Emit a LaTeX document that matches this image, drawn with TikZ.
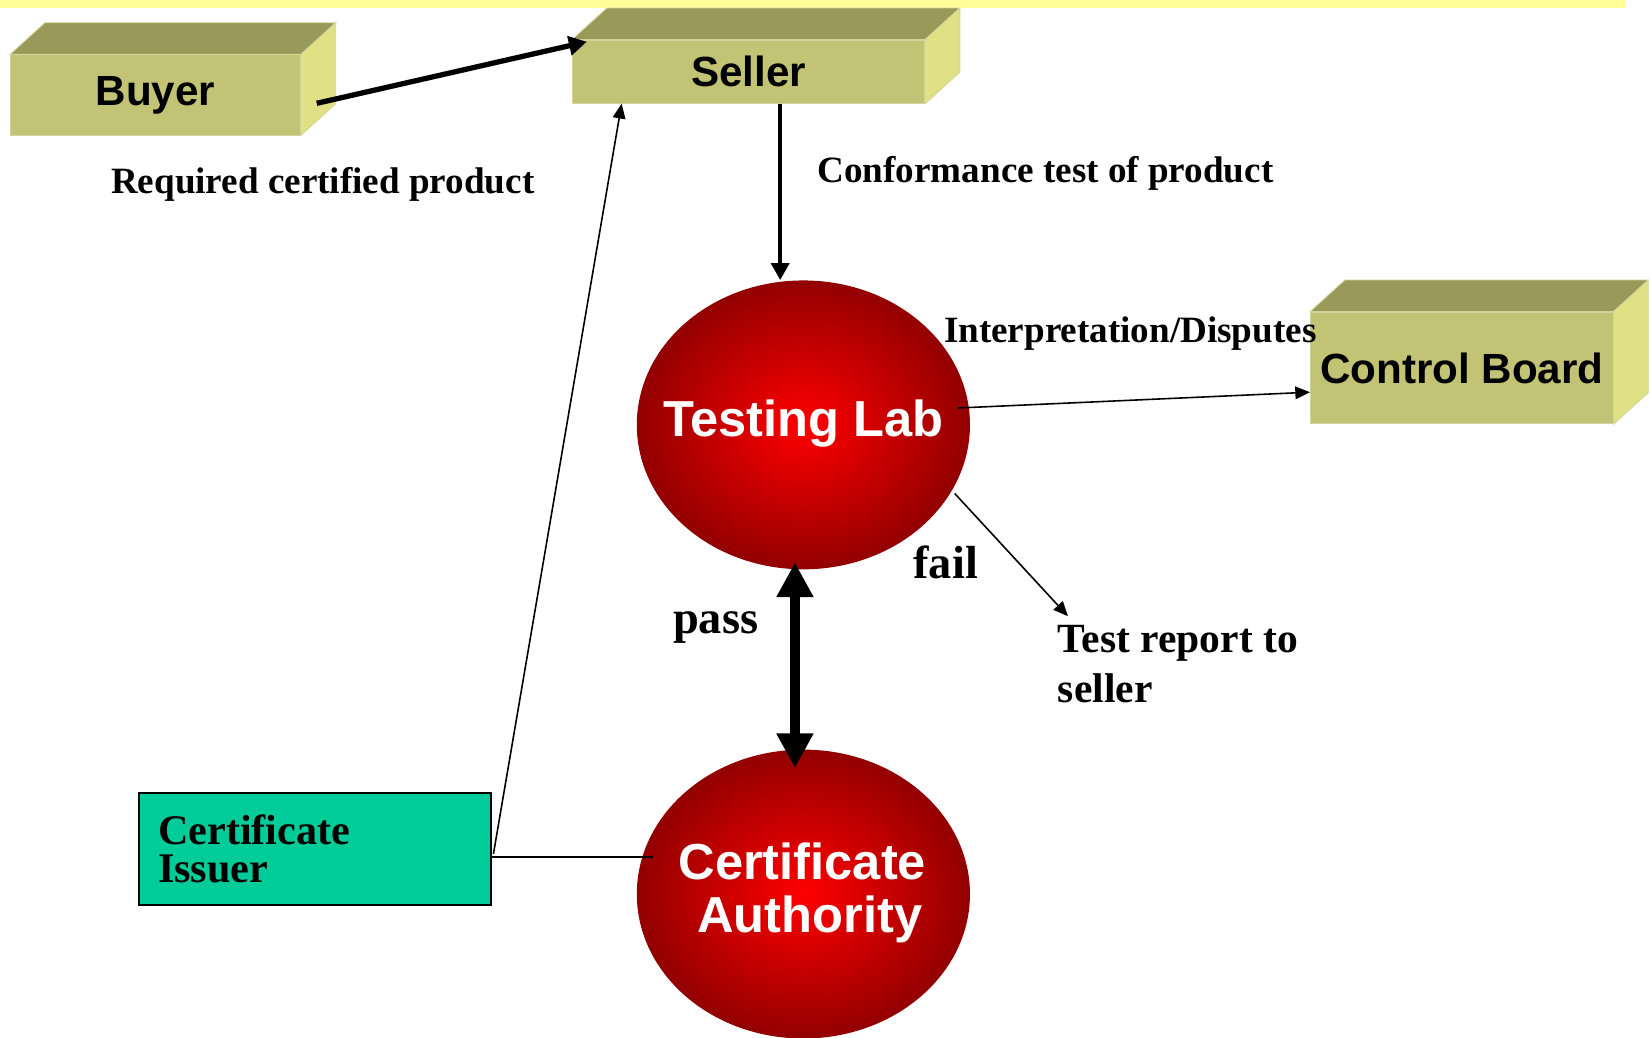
\documentclass[tikz,border=0pt]{standalone}
\usepackage{fontspec}
\setmainfont{Liberation Serif}
\newfontfamily\sansfam{Liberation Sans}
\usetikzlibrary{arrows.meta,calc,shapes.geometric}
\definecolor{bandyellow}{HTML}{FFFF99}
\definecolor{boxfront}{HTML}{C3C375}
\definecolor{boxtop}{HTML}{999959}
\definecolor{boxside}{HTML}{E0E085}
\definecolor{boxedge}{HTML}{D4D49A}
\definecolor{issuergreen}{HTML}{00CC99}
\definecolor{ballred}{rgb}{1,0,0}
\definecolor{ballmid}{rgb}{0.66,0,0}
\definecolor{balldark}{rgb}{0.47,0,0}
\pgfdeclareradialshading{redball}{\pgfpoint{0bp}{0bp}}{color(0bp)=(ballred); color(20bp)=(ballmid); color(31bp)=(balldark); color(50bp)=(balldark)}
\newcommand\cubefaces[1]{%
  \fill[boxtop,draw=boxedge,line width=0.4pt] (#1.north west) -- ++(33,-30) -- ($(#1.north east)+(33,-30)$) -- (#1.north east) -- cycle;
  \fill[boxside,draw=boxedge,line width=0.4pt] (#1.north east) -- ++(33,-30) -- ($(#1.south east)+(33,-30)$) -- (#1.south east) -- cycle;
}
\tikzset{
  frontbox/.style={rectangle, fill=boxfront, draw=boxedge, line width=0.4pt, inner sep=0pt,
    font=\sansfam\bfseries\fontsize{20}{24}\selectfont},
  ball/.style={ellipse, shading=redball, inner sep=0pt, minimum width=158pt, minimum height=137pt},
  balltext/.style={text=white, align=center, inner sep=0pt, font=\sansfam\bfseries\fontsize{24}{25.5}\selectfont},
  lbl/.style={inner sep=0pt, anchor=west, font=\bfseries\fontsize{17.6}{21}\selectfont},
  biglbl/.style={inner sep=0pt, anchor=west, font=\bfseries\fontsize{22}{26}\selectfont},
  thinarrow/.style={line width=0.75pt, -{Triangle[width=6pt,length=7pt]}},
  medarrow/.style={line width=1.8pt, -{Triangle[width=8.5pt,length=8pt]}},
  thickarrow/.style={line width=2.5pt, -{Triangle[width=9pt,length=8.5pt]}},
  fatarrow/.style={line width=5pt, {Triangle[width=16.5pt,length=16.5pt]}-{Triangle[width=16.5pt,length=16.5pt]}},
}
\begin{document}
\begin{tikzpicture}[x=0.5pt,y=-0.5pt]
\useasboundingbox (0,0) rectangle (1565,983.6);
% top band
\fill[bandyellow] (0,0) rectangle (1542,7.5);
% 3D boxes
\node[frontbox, minimum width=137.5pt, minimum height=38pt] (buyer) at (147.5,90) {Buyer};
\node[frontbox, minimum width=167pt, minimum height=30pt] (seller) at (710,68) {Seller};
\node[frontbox, minimum width=143.5pt, minimum height=53pt] (cb) at (1386.5,349) {Control Board};
\cubefaces{buyer}
\cubefaces{seller}
\cubefaces{cb}
% balls
\node[ball] (lab) at (762,403) {};
\node[balltext] (labtext) at (762,402) {Testing Lab};
\node[ball] (ca) at (762,848) {};
\node[balltext] (catext) at (761,847) {Certificate\\\hspace*{7pt}Authority};
% issuer
\node[rectangle, fill=issuergreen, draw=black, line width=1pt, minimum width=167pt, minimum height=53pt,
  inner xsep=9pt, inner ysep=0pt, text width=149pt, align=left,
  font=\bfseries\fontsize{20}{18}\selectfont] (issuer) at (299,805) {Certificate\\Issuer};
% labels
\node[lbl] (req) at (105,175) {Required certified product};
\node[lbl] (conf) at (775,164) {Conformance test of product};
\node[lbl] (interp) at (895,316) {Interpretation/Disputes};
\node[biglbl] (fail) at (866,533) {fail};
\node[biglbl] (pass) at (638,595) {pass};
\node[inner sep=0pt, anchor=west, align=left, font=\bfseries\fontsize{19.7}{24}\selectfont] (report) at (1003,630) {Test report to\\seller};
% connectors
\draw[thickarrow] ($(buyer.east)+(15,8)$) -- ($(seller.north west)+(14,2)$);
\draw[medarrow] ([xshift=-11pt]lab.north |- seller.south) -- ([xshift=-11pt]lab.north);
\draw[thinarrow] ([xshift=-6pt,yshift=8pt]lab.east) -- ([yshift=-11.5pt]cb.west);
\draw[thinarrow] ([xshift=2pt]lab.-25) -- ([xshift=5pt,yshift=4pt]report.north west);
\draw[thinarrow] ($(issuer.east)+(1,5)$) -- ([xshift=23.5pt]seller.south west);
\draw[line width=0.75pt] ($(issuer.east)+(0,8)$) -- ($(issuer.east -| ca.west)+(16,8)$);
\draw[fatarrow] ([xshift=-4pt,yshift=3.5pt]lab.south) -- ([xshift=-4pt,yshift=-9pt]ca.north);
\end{tikzpicture}
\end{document}
